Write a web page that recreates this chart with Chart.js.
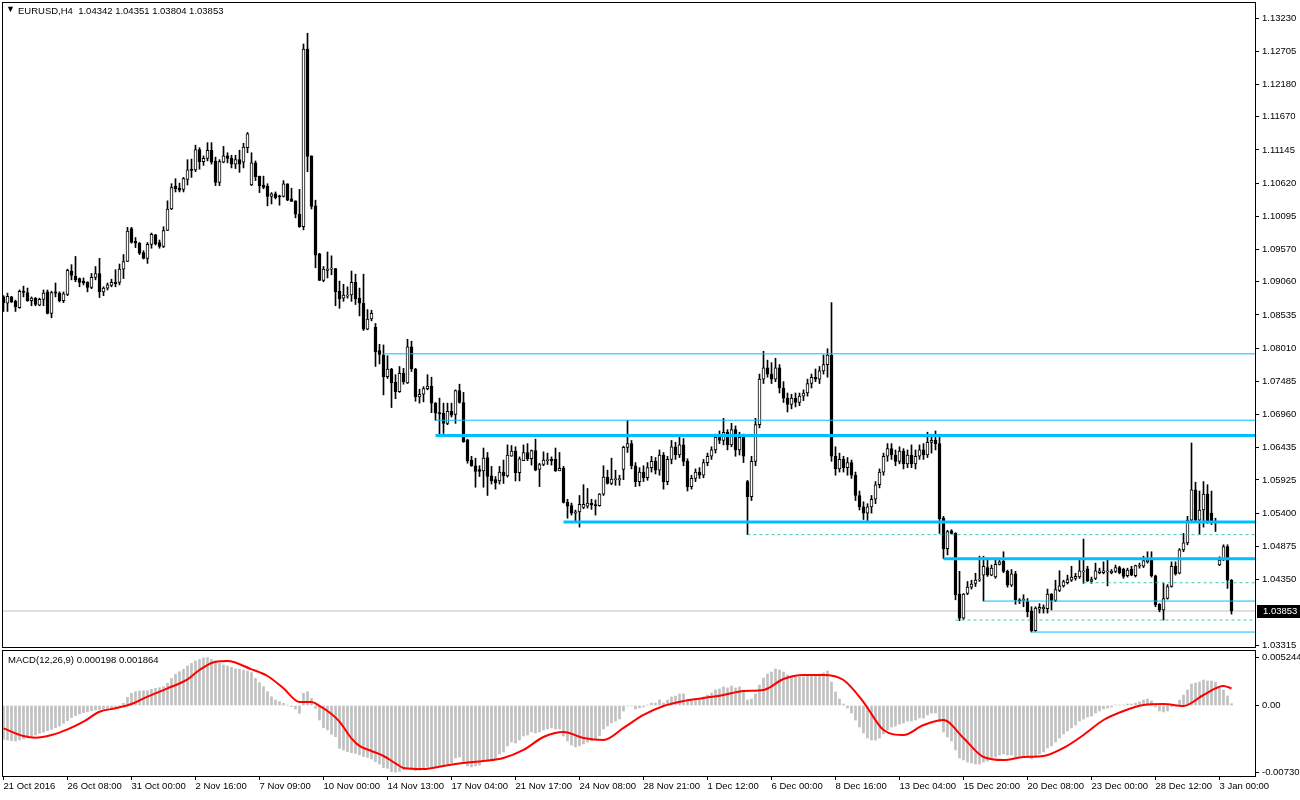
<!DOCTYPE html>
<html>
<head>
<meta charset="utf-8">
<script src="https://cdn.jsdelivr.net/npm/chart.js@4.4.0/dist/chart.umd.min.js"></script>
<style>
  html, body { margin: 0; padding: 0; background: #fff; }
  #wrap { position: relative; width: 1300px; height: 800px; }
  .hdr { position: absolute; font: 9.5px "Liberation Sans", Arial, sans-serif; color: #000; white-space: pre; }
</style>
</head>
<body>
<div id="wrap">
  <canvas id="chart" width="1300" height="800"></canvas>
  <div class="hdr" style="left:6px;top:4px;font-size:9px">&#9660;</div>
  <div class="hdr" style="left:18px;top:5px">EURUSD,H4  1.04342 1.04351 1.03804 1.03853</div>
  <div class="hdr" style="left:8px;top:654px">MACD(12,26,9) 0.000198 0.001864</div>
</div>
<script>
// EURUSD H4 candles, one entry per bar (bar 0 = 21 Oct 2016, bar 307 = 3 Jan 04:00)
const opens = [
  1.0882, 1.0872, 1.0882, 1.0875, 1.0865, 1.0891, 1.0889, 1.0876, 1.0880, 1.0869,
  1.0878, 1.0890, 1.0856, 1.0890, 1.0888, 1.0876, 1.0886, 1.0923, 1.0915, 1.0911,
  1.0907, 1.0905, 1.0897, 1.0913, 1.0919, 1.0890, 1.0896, 1.0900, 1.0905, 1.0905,
  1.0926, 1.0938, 1.0990, 1.0970, 1.0967, 1.0952, 1.0943, 1.0965, 1.0980, 1.0968,
  1.0962, 1.0987, 1.1021, 1.1057, 1.1054, 1.1052, 1.1068, 1.1084, 1.1083, 1.1115,
  1.1096, 1.1101, 1.1114, 1.1097, 1.1063, 1.1095, 1.1105, 1.1101, 1.1092, 1.1099,
  1.1095, 1.1118, 1.1059, 1.1094, 1.1073, 1.1059, 1.1057, 1.1041, 1.1045, 1.1042,
  1.1041, 1.1061, 1.1037, 1.1034, 1.1013, 1.0993, 1.1274, 1.1105, 1.1026, 1.0950,
  1.0908, 1.0924, 1.0926, 1.0927, 1.0891, 1.0880, 1.0883, 1.0885, 1.0905, 1.0880,
  1.0872, 1.0831, 1.0847, 1.0834, 1.0797, 1.0790, 1.0756, 1.0768, 1.0747, 1.0732,
  1.0761, 1.0746, 1.0803, 1.0768, 1.0724, 1.0728, 1.0737, 1.0741, 1.0714, 1.0699,
  1.0698, 1.0682, 1.0701, 1.0696, 1.0734, 1.0715, 1.0656, 1.0624, 1.0615, 1.0609,
  1.0607, 1.0628, 1.0599, 1.0593, 1.0591, 1.0605, 1.0599, 1.0630, 1.0638, 1.0604,
  1.0623, 1.0636, 1.0626, 1.0639, 1.0609, 1.0617, 1.0623, 1.0625, 1.0625, 1.0607,
  1.0611, 1.0557, 1.0552, 1.0540, 1.0542, 1.0549, 1.0551, 1.0556, 1.0553, 1.0552,
  1.0570, 1.0597, 1.0587, 1.0593, 1.0593, 1.0609, 1.0644, 1.0650, 1.0615, 1.0590,
  1.0605, 1.0596, 1.0612, 1.0622, 1.0608, 1.0632, 1.0590, 1.0625, 1.0645, 1.0632,
  1.0648, 1.0622, 1.0582, 1.0595, 1.0605, 1.0600, 1.0620, 1.0630, 1.0640, 1.0660,
  1.0655, 1.0668, 1.0648, 1.0672, 1.0640, 1.0660, 1.0590, 1.0566, 1.0622, 1.0680,
  1.0752, 1.0770, 1.0760, 1.0752, 1.0770, 1.0738, 1.0722, 1.0712, 1.0722, 1.0715,
  1.0725, 1.0730, 1.0745, 1.0755, 1.0752, 1.0765, 1.0775, 1.0790, 1.0630, 1.0610,
  1.0625, 1.0612, 1.0620, 1.0600, 1.0568, 1.0550, 1.0540, 1.0550, 1.0562, 1.0585,
  1.0605, 1.0630, 1.0642, 1.0632, 1.0622, 1.0638, 1.0618, 1.0632, 1.0618, 1.0630,
  1.0640, 1.0632, 1.0652, 1.0655, 1.0650, 1.0532, 1.0484, 1.0512, 1.0508, 1.0412,
  1.0374, 1.0413, 1.0423, 1.0429, 1.0434, 1.0442, 1.0454, 1.0442, 1.0439, 1.0459,
  1.0464, 1.0448, 1.0426, 1.0444, 1.0403, 1.0402, 1.0400, 1.0385, 1.0354, 1.0388,
  1.0389, 1.0389, 1.0412, 1.0402, 1.0418, 1.0425, 1.0430, 1.0434, 1.0437, 1.0439,
  1.0447, 1.0452, 1.0432, 1.0437, 1.0446, 1.0446, 1.0447, 1.0446, 1.0448, 1.0454,
  1.0451, 1.0441, 1.0451, 1.0441, 1.0456, 1.0456, 1.0463, 1.0467, 1.0441, 1.0396,
  1.0387, 1.0405, 1.0424, 1.0456, 1.0445, 1.0482, 1.0493, 1.0529, 1.0577, 1.0529,
  1.0545, 1.0570, 1.0540, 1.0525, 1.0458, 1.0466, 1.0487, 1.04342
];
const highs = [
  1.0884, 1.0888, 1.0883, 1.0877, 1.0893, 1.0899, 1.0896, 1.0882, 1.0881, 1.0880,
  1.0893, 1.0893, 1.0891, 1.0904, 1.0890, 1.0890, 1.0926, 1.0933, 1.0946, 1.0912,
  1.0912, 1.0906, 1.0919, 1.0930, 1.0943, 1.0898, 1.0904, 1.0910, 1.0925, 1.0934,
  1.0949, 1.0992, 1.0992, 1.0976, 1.0968, 1.0955, 1.0968, 1.0983, 1.0981, 1.0972,
  1.0993, 1.1034, 1.1061, 1.1069, 1.1062, 1.1071, 1.1099, 1.1100, 1.1122, 1.1118,
  1.1105, 1.1126, 1.1126, 1.1103, 1.1099, 1.1120, 1.1110, 1.1106, 1.1106, 1.1114,
  1.1125, 1.1142, 1.1110, 1.1097, 1.1073, 1.1073, 1.1061, 1.1047, 1.1048, 1.1043,
  1.1066, 1.1061, 1.1054, 1.1034, 1.1052, 1.1282, 1.1299, 1.1105, 1.1035, 1.0951,
  1.0930, 1.0953, 1.0947, 1.0927, 1.0907, 1.0902, 1.0898, 1.0923, 1.0918, 1.0896,
  1.0918, 1.0862, 1.0861, 1.0840, 1.0807, 1.0806, 1.0789, 1.0769, 1.0759, 1.0772,
  1.0769, 1.0815, 1.0812, 1.0769, 1.0736, 1.0740, 1.0759, 1.0755, 1.0715, 1.0722,
  1.0714, 1.0714, 1.0714, 1.0735, 1.0744, 1.0731, 1.0657, 1.0630, 1.0627, 1.0615,
  1.0643, 1.0636, 1.0614, 1.0598, 1.0614, 1.0624, 1.0648, 1.0647, 1.0645, 1.0629,
  1.0648, 1.0650, 1.0640, 1.0657, 1.0619, 1.0637, 1.0635, 1.0629, 1.0643, 1.0636,
  1.0614, 1.0562, 1.0556, 1.0545, 1.0568, 1.0585, 1.0579, 1.0562, 1.0561, 1.0571,
  1.0615, 1.0608, 1.0627, 1.0608, 1.0600, 1.0646, 1.0687, 1.0655, 1.0620, 1.0612,
  1.0615, 1.0620, 1.0630, 1.0628, 1.0640, 1.0636, 1.0630, 1.0655, 1.0652, 1.0660,
  1.0658, 1.0626, 1.0600, 1.0610, 1.0612, 1.0625, 1.0635, 1.0645, 1.0665, 1.0670,
  1.0690, 1.0672, 1.0682, 1.0678, 1.0668, 1.0665, 1.0592, 1.0630, 1.0690, 1.0760,
  1.0796, 1.0782, 1.0778, 1.0785, 1.0775, 1.0748, 1.0730, 1.0728, 1.0730, 1.0730,
  1.0735, 1.0752, 1.0760, 1.0768, 1.0772, 1.0790, 1.0800, 1.0873, 1.0645, 1.0635,
  1.0630, 1.0628, 1.0624, 1.0605, 1.0575, 1.0558, 1.0555, 1.0568, 1.0590, 1.0610,
  1.0635, 1.0650, 1.0650, 1.0640, 1.0645, 1.0642, 1.0640, 1.0648, 1.0640, 1.0648,
  1.0650, 1.0668, 1.0665, 1.0670, 1.0662, 1.0535, 1.0513, 1.0514, 1.0509, 1.0448,
  1.0413, 1.0432, 1.0434, 1.0445, 1.0472, 1.0472, 1.0469, 1.0458, 1.0467, 1.0466,
  1.0479, 1.0450, 1.0451, 1.0448, 1.0405, 1.0411, 1.0405, 1.0392, 1.0392, 1.0397,
  1.0395, 1.0420, 1.0413, 1.0434, 1.0449, 1.0434, 1.0442, 1.0456, 1.0445, 1.0466,
  1.0499, 1.0456, 1.0439, 1.0461, 1.0453, 1.0463, 1.0466, 1.0451, 1.0458, 1.0456,
  1.0453, 1.0453, 1.0456, 1.0458, 1.0461, 1.0472, 1.0479, 1.0479, 1.0442, 1.0397,
  1.0429, 1.0427, 1.0463, 1.0463, 1.0484, 1.0508, 1.0535, 1.0651, 1.0589, 1.0575,
  1.0590, 1.0585, 1.0575, 1.0532, 1.0471, 1.0490, 1.0490, 1.04351
];
const lows = [
  1.0859, 1.0859, 1.0873, 1.0859, 1.0864, 1.0882, 1.0875, 1.0868, 1.0868, 1.0868,
  1.0868, 1.0855, 1.0849, 1.0882, 1.0874, 1.0873, 1.0884, 1.0909, 1.0906, 1.0898,
  1.0901, 1.0890, 1.0895, 1.0909, 1.0881, 1.0884, 1.0893, 1.0898, 1.0898, 1.0901,
  1.0911, 1.0938, 1.0967, 1.0960, 1.0949, 1.0942, 1.0935, 1.0959, 1.0964, 1.0959,
  1.0960, 1.0987, 1.1020, 1.1048, 1.1048, 1.1048, 1.1059, 1.1071, 1.1080, 1.1084,
  1.1090, 1.1097, 1.1092, 1.1058, 1.1058, 1.1094, 1.1094, 1.1086, 1.1085, 1.1079,
  1.1086, 1.1110, 1.1058, 1.1066, 1.1047, 1.1053, 1.1026, 1.1029, 1.1037, 1.1027,
  1.1040, 1.1034, 1.1033, 1.1007, 1.0992, 1.0988, 1.1080, 1.1021, 1.0928, 1.0908,
  1.0906, 1.0912, 1.0917, 1.0868, 1.0864, 1.0875, 1.0880, 1.0875, 1.0870, 1.0852,
  1.0829, 1.0830, 1.0844, 1.0772, 1.0776, 1.0727, 1.0753, 1.0707, 1.0721, 1.0731,
  1.0744, 1.0745, 1.0764, 1.0717, 1.0714, 1.0716, 1.0735, 1.0699, 1.0687, 1.0665,
  1.0666, 1.0680, 1.0692, 1.0682, 1.0714, 1.0652, 1.0619, 1.0614, 1.0581, 1.0598,
  1.0581, 1.0568, 1.0586, 1.0578, 1.0586, 1.0587, 1.0597, 1.0630, 1.0591, 1.0591,
  1.0623, 1.0623, 1.0616, 1.0607, 1.0582, 1.0615, 1.0617, 1.0616, 1.0606, 1.0607,
  1.0556, 1.0532, 1.0537, 1.0527, 1.0518, 1.0547, 1.0548, 1.0546, 1.0537, 1.0551,
  1.0568, 1.0586, 1.0585, 1.0584, 1.0584, 1.0593, 1.0636, 1.0610, 1.0582, 1.0583,
  1.0590, 1.0592, 1.0605, 1.0602, 1.0600, 1.0578, 1.0585, 1.0618, 1.0625, 1.0628,
  1.0615, 1.0575, 1.0578, 1.0590, 1.0595, 1.0596, 1.0615, 1.0625, 1.0635, 1.0650,
  1.0648, 1.0640, 1.0645, 1.0630, 1.0632, 1.0620, 1.0506, 1.0560, 1.0615, 1.0675,
  1.0745, 1.0755, 1.0745, 1.0748, 1.0730, 1.0715, 1.0700, 1.0705, 1.0708, 1.0710,
  1.0718, 1.0725, 1.0738, 1.0748, 1.0745, 1.0760, 1.0755, 1.0622, 1.0600, 1.0605,
  1.0605, 1.0600, 1.0595, 1.0560, 1.0545, 1.0530, 1.0526, 1.0540, 1.0555, 1.0580,
  1.0600, 1.0622, 1.0625, 1.0615, 1.0618, 1.0610, 1.0612, 1.0612, 1.0610, 1.0625,
  1.0625, 1.0628, 1.0635, 1.0640, 1.0508, 1.0468, 1.0474, 1.0507, 1.0403, 1.0370,
  1.0372, 1.0411, 1.0420, 1.0424, 1.0432, 1.0401, 1.0440, 1.0441, 1.0437, 1.0458,
  1.0446, 1.0423, 1.0424, 1.0396, 1.0397, 1.0392, 1.0376, 1.0352, 1.0353, 1.0382,
  1.0382, 1.0382, 1.0387, 1.0400, 1.0416, 1.0423, 1.0428, 1.0432, 1.0434, 1.0437,
  1.0429, 1.0432, 1.0429, 1.0435, 1.0444, 1.0444, 1.0425, 1.0444, 1.0446, 1.0444,
  1.0437, 1.0439, 1.0441, 1.0439, 1.0453, 1.0454, 1.0461, 1.0439, 1.0392, 1.0384,
  1.0371, 1.0404, 1.0423, 1.0442, 1.0444, 1.0479, 1.0490, 1.0526, 1.0526, 1.0506,
  1.0518, 1.0524, 1.0522, 1.0511, 1.0457, 1.0465, 1.0421, 1.03804
];
const closes = [
  1.0873, 1.0883, 1.0874, 1.0866, 1.0891, 1.0889, 1.0876, 1.0880, 1.0870, 1.0878,
  1.0888, 1.0856, 1.0889, 1.0888, 1.0876, 1.0887, 1.0924, 1.0916, 1.0909, 1.0905,
  1.0904, 1.0897, 1.0913, 1.0919, 1.0890, 1.0896, 1.0901, 1.0905, 1.0903, 1.0926,
  1.0938, 1.0986, 1.0968, 1.0967, 1.0951, 1.0943, 1.0965, 1.0981, 1.0966, 1.0962,
  1.0987, 1.1021, 1.1055, 1.1053, 1.1051, 1.1069, 1.1083, 1.1082, 1.1115, 1.1096,
  1.1101, 1.1114, 1.1095, 1.1063, 1.1096, 1.1105, 1.1101, 1.1092, 1.1099, 1.1092,
  1.1119, 1.1140, 1.1094, 1.1072, 1.1058, 1.1055, 1.1041, 1.1045, 1.1039, 1.1040,
  1.1061, 1.1035, 1.1033, 1.1013, 1.0993, 1.1274, 1.1104, 1.1025, 1.0948, 1.0908,
  1.0926, 1.0926, 1.0927, 1.0890, 1.0879, 1.0885, 1.0885, 1.0905, 1.0879, 1.0872,
  1.0831, 1.0847, 1.0856, 1.0795, 1.0791, 1.0756, 1.0768, 1.0746, 1.0732, 1.0761,
  1.0748, 1.0803, 1.0768, 1.0724, 1.0728, 1.0737, 1.0741, 1.0714, 1.0698, 1.0697,
  1.0682, 1.0701, 1.0695, 1.0734, 1.0715, 1.0653, 1.0623, 1.0615, 1.0606, 1.0606,
  1.0627, 1.0598, 1.0591, 1.0588, 1.0605, 1.0599, 1.0632, 1.0638, 1.0604, 1.0626,
  1.0636, 1.0626, 1.0639, 1.0608, 1.0617, 1.0624, 1.0624, 1.0623, 1.0607, 1.0611,
  1.0557, 1.0551, 1.0540, 1.0542, 1.0554, 1.0554, 1.0556, 1.0553, 1.0552, 1.0570,
  1.0597, 1.0587, 1.0594, 1.0594, 1.0594, 1.0644, 1.0650, 1.0615, 1.0590, 1.0605,
  1.0596, 1.0612, 1.0622, 1.0608, 1.0632, 1.0590, 1.0625, 1.0645, 1.0632, 1.0648,
  1.0622, 1.0582, 1.0595, 1.0605, 1.0600, 1.0620, 1.0630, 1.0640, 1.0660, 1.0655,
  1.0668, 1.0648, 1.0672, 1.0640, 1.0660, 1.0630, 1.0566, 1.0622, 1.0680, 1.0752,
  1.0770, 1.0760, 1.0752, 1.0770, 1.0738, 1.0722, 1.0712, 1.0722, 1.0715, 1.0725,
  1.0730, 1.0745, 1.0755, 1.0752, 1.0765, 1.0775, 1.0790, 1.0630, 1.0610, 1.0625,
  1.0612, 1.0620, 1.0600, 1.0568, 1.0550, 1.0540, 1.0550, 1.0562, 1.0585, 1.0605,
  1.0630, 1.0642, 1.0632, 1.0622, 1.0638, 1.0618, 1.0632, 1.0618, 1.0630, 1.0640,
  1.0632, 1.0652, 1.0655, 1.0650, 1.0531, 1.0484, 1.0511, 1.0508, 1.0411, 1.0374,
  1.0412, 1.0423, 1.0428, 1.0434, 1.0435, 1.0456, 1.0442, 1.0453, 1.0459, 1.0463,
  1.0448, 1.0426, 1.0444, 1.0403, 1.0401, 1.0403, 1.0384, 1.0354, 1.0390, 1.0391,
  1.0391, 1.0412, 1.0402, 1.0419, 1.0425, 1.0432, 1.0435, 1.0439, 1.0440, 1.0449,
  1.0449, 1.0433, 1.0435, 1.0449, 1.0449, 1.0449, 1.0449, 1.0448, 1.0454, 1.0446,
  1.0440, 1.0450, 1.0442, 1.0457, 1.0457, 1.0465, 1.0466, 1.0441, 1.0395, 1.0387,
  1.0405, 1.0424, 1.0456, 1.0444, 1.0482, 1.0493, 1.0529, 1.0577, 1.0529, 1.0545,
  1.0570, 1.0527, 1.0527, 1.0524, 1.0466, 1.0487, 1.0434, 1.03853
];

// MACD(12,26,9): main value per bar (grey histogram), signal line read at some bars
const macdMain = [
  -0.00370, -0.00378, -0.00385, -0.00389, -0.00378, -0.00367, -0.00352, -0.00341, -0.00323, -0.00305,
  -0.00293, -0.00276, -0.00261, -0.00243, -0.00224, -0.00195, -0.00166, -0.00133, -0.00111, -0.00093,
  -0.00078, -0.00068, -0.00057, -0.00049, -0.00042, -0.00038, -0.00031, -0.00024, -0.00013, -0.00002,
  0.00024, 0.00089, 0.00133, 0.00151, 0.00159, 0.00162, 0.00162, 0.00177, 0.00188, 0.00195,
  0.00206, 0.00243, 0.00297, 0.00341, 0.00370, 0.00396, 0.00432, 0.00461, 0.00487, 0.00505,
  0.00520, 0.00524, 0.00505, 0.00487, 0.00461, 0.00443, 0.00432, 0.00418, 0.00400, 0.00396,
  0.00389, 0.00378, 0.00360, 0.00297, 0.00250, 0.00206, 0.00151, 0.00097, 0.00060, 0.00042,
  0.00024, 0.00005, -0.00013, -0.00038, -0.00086, 0.00133, 0.00151, 0.00078, -0.00031, -0.00159,
  -0.00243, -0.00268, -0.00316, -0.00341, -0.00469, -0.00487, -0.00505, -0.00516, -0.00524, -0.00542,
  -0.00560, -0.00568, -0.00586, -0.00615, -0.00641, -0.00681, -0.00688, -0.00725, -0.00730, -0.00722,
  -0.00706, -0.00695, -0.00706, -0.00715, -0.00710, -0.00695, -0.00673, -0.00673, -0.00673, -0.00662,
  -0.00662, -0.00641, -0.00630, -0.00575, -0.00564, -0.00619, -0.00662, -0.00673, -0.00662, -0.00652,
  -0.00597, -0.00597, -0.00586, -0.00575, -0.00531, -0.00509, -0.00443, -0.00400, -0.00411, -0.00378,
  -0.00334, -0.00323, -0.00290, -0.00301, -0.00290, -0.00268, -0.00257, -0.00246, -0.00257, -0.00257,
  -0.00334, -0.00389, -0.00433, -0.00454, -0.00443, -0.00422, -0.00400, -0.00389, -0.00378, -0.00334,
  -0.00257, -0.00225, -0.00192, -0.00170, -0.00148, -0.00060, -0.00005, -0.00005, -0.00038, -0.00027,
  -0.00016, 0.00005, 0.00027, 0.00027, 0.00060, 0.00027, 0.00060, 0.00093, 0.00104, 0.00126,
  0.00126, 0.00071, 0.00060, 0.00071, 0.00071, 0.00093, 0.00115, 0.00137, 0.00170, 0.00181,
  0.00203, 0.00192, 0.00214, 0.00192, 0.00203, 0.00170, 0.00060, 0.00071, 0.00126, 0.00224,
  0.00301, 0.00345, 0.00367, 0.00400, 0.00389, 0.00367, 0.00334, 0.00323, 0.00312, 0.00312,
  0.00312, 0.00323, 0.00334, 0.00334, 0.00345, 0.00356, 0.00378, 0.00257, 0.00148, 0.00071,
  0.00016, -0.00027, -0.00082, -0.00159, -0.00235, -0.00301, -0.00356, -0.00378, -0.00378, -0.00356,
  -0.00312, -0.00268, -0.00235, -0.00225, -0.00203, -0.00192, -0.00170, -0.00170, -0.00159, -0.00137,
  -0.00137, -0.00104, -0.00082, -0.00082, -0.00181, -0.00290, -0.00345, -0.00389, -0.00487, -0.00575,
  -0.00597, -0.00619, -0.00630, -0.00641, -0.00641, -0.00619, -0.00608, -0.00586, -0.00564, -0.00542,
  -0.00531, -0.00542, -0.00542, -0.00564, -0.00564, -0.00564, -0.00564, -0.00586, -0.00553, -0.00531,
  -0.00509, -0.00465, -0.00443, -0.00400, -0.00356, -0.00312, -0.00279, -0.00246, -0.00214, -0.00170,
  -0.00148, -0.00126, -0.00115, -0.00082, -0.00060, -0.00038, -0.00027, -0.00016, 0.00005, 0.00005,
  0.00005, 0.00016, 0.00016, 0.00027, 0.00038, 0.00060, 0.00071, 0.00049, -0.00016, -0.00060,
  -0.00071, -0.00060, -0.00016, -0.00005, 0.00060, 0.00115, 0.00170, 0.00235, 0.00246, 0.00257,
  0.00279, 0.00268, 0.00268, 0.00257, 0.00192, 0.00170, 0.00104, 0.000198
];
const signalBars = [
  0, 5, 8, 12, 16, 20, 24, 28, 32, 36, 41, 46, 49, 53, 56, 62, 66, 70, 74, 77, 79, 82, 84, 87, 89,
  92, 95, 98, 100, 105, 110, 115, 120, 125, 130, 135, 140, 145, 150, 155, 160, 165, 170, 175, 180,
  185, 190, 195, 200, 205, 210, 215, 220, 225, 230, 235, 240, 245, 250, 255, 260, 265, 270, 275,
  280, 285, 290, 295, 300, 305, 307
];
const signalValues = [
  -0.00250, -0.00334, -0.00352, -0.00323, -0.00261, -0.00177, -0.00068, -0.00031, 0.00016, 0.00097,
  0.00188, 0.00287, 0.00389, 0.00480, 0.00487, 0.00396, 0.00323, 0.00188, 0.00038, 0.00038,
  -0.00005, -0.00093, -0.00177, -0.00360, -0.00443, -0.00498, -0.00553, -0.00633, -0.00684, -0.00695,
  -0.00662, -0.00630, -0.00608, -0.00575, -0.00487, -0.00345, -0.00290, -0.00356, -0.00378, -0.00246,
  -0.00104, -0.00005, 0.00049, 0.00082, 0.00115, 0.00159, 0.00170, 0.00290, 0.00334, 0.00334,
  0.00279, 0.00038, -0.00268, -0.00323, -0.00214, -0.00159, -0.00356, -0.00564, -0.00597, -0.00564,
  -0.00553, -0.00465, -0.00323, -0.00159, -0.00060, 0.00005, 0.00016, -0.00005, 0.00115, 0.00214,
  0.001864
];

// drawn levels: price and the bar where each line starts
const thinLevels = [1.0792, 1.0687, 1.0401, 1.0352];
const thinStarts = [95, 108, 245, 257];
const thickLevels = [1.0663, 1.0526, 1.0468];
const thickStarts = [108, 140, 235];
const dashLevels = [1.0506, 1.0430, 1.0371];
const dashStarts = [186, 270, 238];
const bidPrice = closes[closes.length - 1];

// axis labels
const timeLabels = ['21 Oct 2016', '26 Oct 08:00', '31 Oct 00:00', '2 Nov 16:00', '7 Nov 09:00',
  '10 Nov 00:00', '14 Nov 13:00', '17 Nov 04:00', '21 Nov 17:00', '24 Nov 08:00', '28 Nov 21:00',
  '1 Dec 12:00', '6 Dec 00:00', '8 Dec 16:00', '13 Dec 04:00', '15 Dec 20:00', '20 Dec 08:00',
  '23 Dec 00:00', '28 Dec 12:00', '3 Jan 00:00'];
const barsPerLabel = 16;
const priceTicks = [1.13230, 1.12705, 1.12180, 1.11670, 1.11145, 1.10620, 1.10095, 1.09570, 1.09060,
  1.08535, 1.08010, 1.07485, 1.06960, 1.06435, 1.05925, 1.05400, 1.04875, 1.04350, 1.03315];
const macdTicks = [0.005244, 0, -0.007303];
const macdTickLabels = ['0.005244', '0.00', '-0.007303'];

const X_MIN = -0.375, X_MAX = 312.875;
const FONT = { family: '"Liberation Sans", Arial, sans-serif', size: 9.5 };
const CYAN = '#00bfff';

function levelSet(levels, starts, width, dash, color) {
  return levels.map((lv, k) => ({
    type: 'line', yAxisID: 'y', order: 0,
    data: [{ x: starts[k], y: lv }, { x: X_MAX, y: lv }],
    borderColor: color, borderWidth: width, borderDash: dash,
    pointRadius: 0, fill: false
  }));
}

const barIdx = opens.map((_, i) => i);

// black frames round the two panes and the bid price box
const paneFrames = {
  id: 'paneFrames',
  afterDatasetsDraw(chart) {
    const { ctx, chartArea: a, scales } = chart;
    const split = Math.round(scales.y.bottom);
    ctx.save();
    ctx.fillStyle = '#fff';
    ctx.fillRect(a.left, split - 1, a.right - a.left, 3);
    ctx.strokeStyle = '#000';
    ctx.lineWidth = 1;
    ctx.strokeRect(a.left + 0.5, a.top - 0.5, a.right - a.left, split - 1 - a.top);
    ctx.strokeRect(a.left + 0.5, split + 1.5, a.right - a.left, a.bottom - split - 1);
    ctx.restore();
  },
  afterDraw(chart) {
    const { ctx, chartArea: a, scales } = chart;
    const y = Math.round(scales.y.getPixelForValue(bidPrice));
    ctx.save();
    ctx.fillStyle = '#000';
    ctx.fillRect(a.right + 2, y - 6, 50, 13);
    ctx.fillStyle = '#fff';
    ctx.font = FONT.size + 'px ' + FONT.family;
    ctx.textBaseline = 'middle';
    ctx.fillText(bidPrice.toFixed(5), a.right + 8, y + 0.5);
    ctx.restore();
  }
};

const axisGrid = { display: true, drawOnChartArea: false, drawTicks: true, tickLength: 4, color: '#000' };
const noPad = s => { s.paddingTop = 0; s.paddingBottom = 0; s.paddingLeft = 0; s.paddingRight = 0; };

new Chart(document.getElementById('chart'), {
  type: 'bar',
  data: {
    datasets: [
      ...levelSet(thinLevels, thinStarts, 1, [], CYAN),
      ...levelSet(thickLevels, thickStarts, 3, [], CYAN),
      ...levelSet(dashLevels, dashStarts, 1, [3, 3], '#3cc8b4'),
      {
        type: 'line', yAxisID: 'y', order: 5,
        data: [{ x: X_MIN, y: bidPrice }, { x: X_MAX, y: bidPrice }],
        borderColor: '#c0c0c0', borderWidth: 1, pointRadius: 0
      },
      {
        label: 'body', yAxisID: 'y', order: 1, grouped: false,
        data: barIdx.map(i => ({ x: i, y: [opens[i], closes[i]] })),
        backgroundColor: c => closes[c.dataIndex] >= opens[c.dataIndex] ? '#fff' : '#000',
        borderColor: '#000', borderWidth: 1, borderSkipped: false,
        barThickness: 3, minBarLength: 1
      },
      {
        label: 'wick', yAxisID: 'y', order: 2, grouped: false,
        data: barIdx.map(i => ({ x: i, y: [lows[i], highs[i]] })),
        backgroundColor: '#000', barThickness: 1
      },
      {
        label: 'macd', yAxisID: 'm', order: 4, grouped: false,
        data: macdMain.map((v, i) => ({ x: i, y: v })),
        backgroundColor: '#c0c0c0', barThickness: 2
      },
      {
        type: 'line', yAxisID: 'm', order: 3,
        data: signalBars.map((b, k) => ({ x: b, y: signalValues[k] })),
        borderColor: '#ff0000', borderWidth: 2, pointRadius: 0,
        cubicInterpolationMode: 'monotone'
      }
    ]
  },
  options: {
    responsive: false,
    animation: false,
    events: [],
    layout: { padding: { left: 2, top: 3, right: 0, bottom: 0 } },
    plugins: { legend: { display: false }, tooltip: { enabled: false } },
    scales: {
      x: {
        type: 'linear', position: 'bottom', min: X_MIN, max: X_MAX, bounds: 'data', offset: false,
        grid: { ...axisGrid, offset: false }, border: { display: false },
        afterBuildTicks: s => { s.ticks = timeLabels.map((_, k) => ({ value: k * barsPerLabel })); },
        afterFit: s => { s.height = 24; noPad(s); },
        ticks: {
          autoSkip: false, maxRotation: 0, align: 'start', padding: 1, color: '#000', font: FONT,
          callback: v => timeLabels[Math.round(v / barsPerLabel)]
        }
      },
      y: {
        position: 'right', stack: 'pane', stackWeight: 646, min: 1.03252, max: 1.13468, bounds: 'data',
        grid: axisGrid, border: { display: false },
        afterBuildTicks: s => { s.ticks = priceTicks.map(v => ({ value: v })); },
        afterFit: s => { s.width = 45; noPad(s); },
        ticks: { padding: 3, color: '#000', font: FONT, callback: v => v.toFixed(5) }
      },
      m: {
        position: 'right', stack: 'pane', stackWeight: 127, min: -0.007722, max: 0.006188, bounds: 'data',
        grid: axisGrid, border: { display: false },
        afterBuildTicks: s => { s.ticks = macdTicks.map(v => ({ value: v })); },
        afterFit: s => { s.width = 45; noPad(s); },
        ticks: { padding: 3, color: '#000', font: FONT, callback: (v, i) => macdTickLabels[i] }
      }
    }
  },
  plugins: [paneFrames]
});
</script>
</body>
</html>
